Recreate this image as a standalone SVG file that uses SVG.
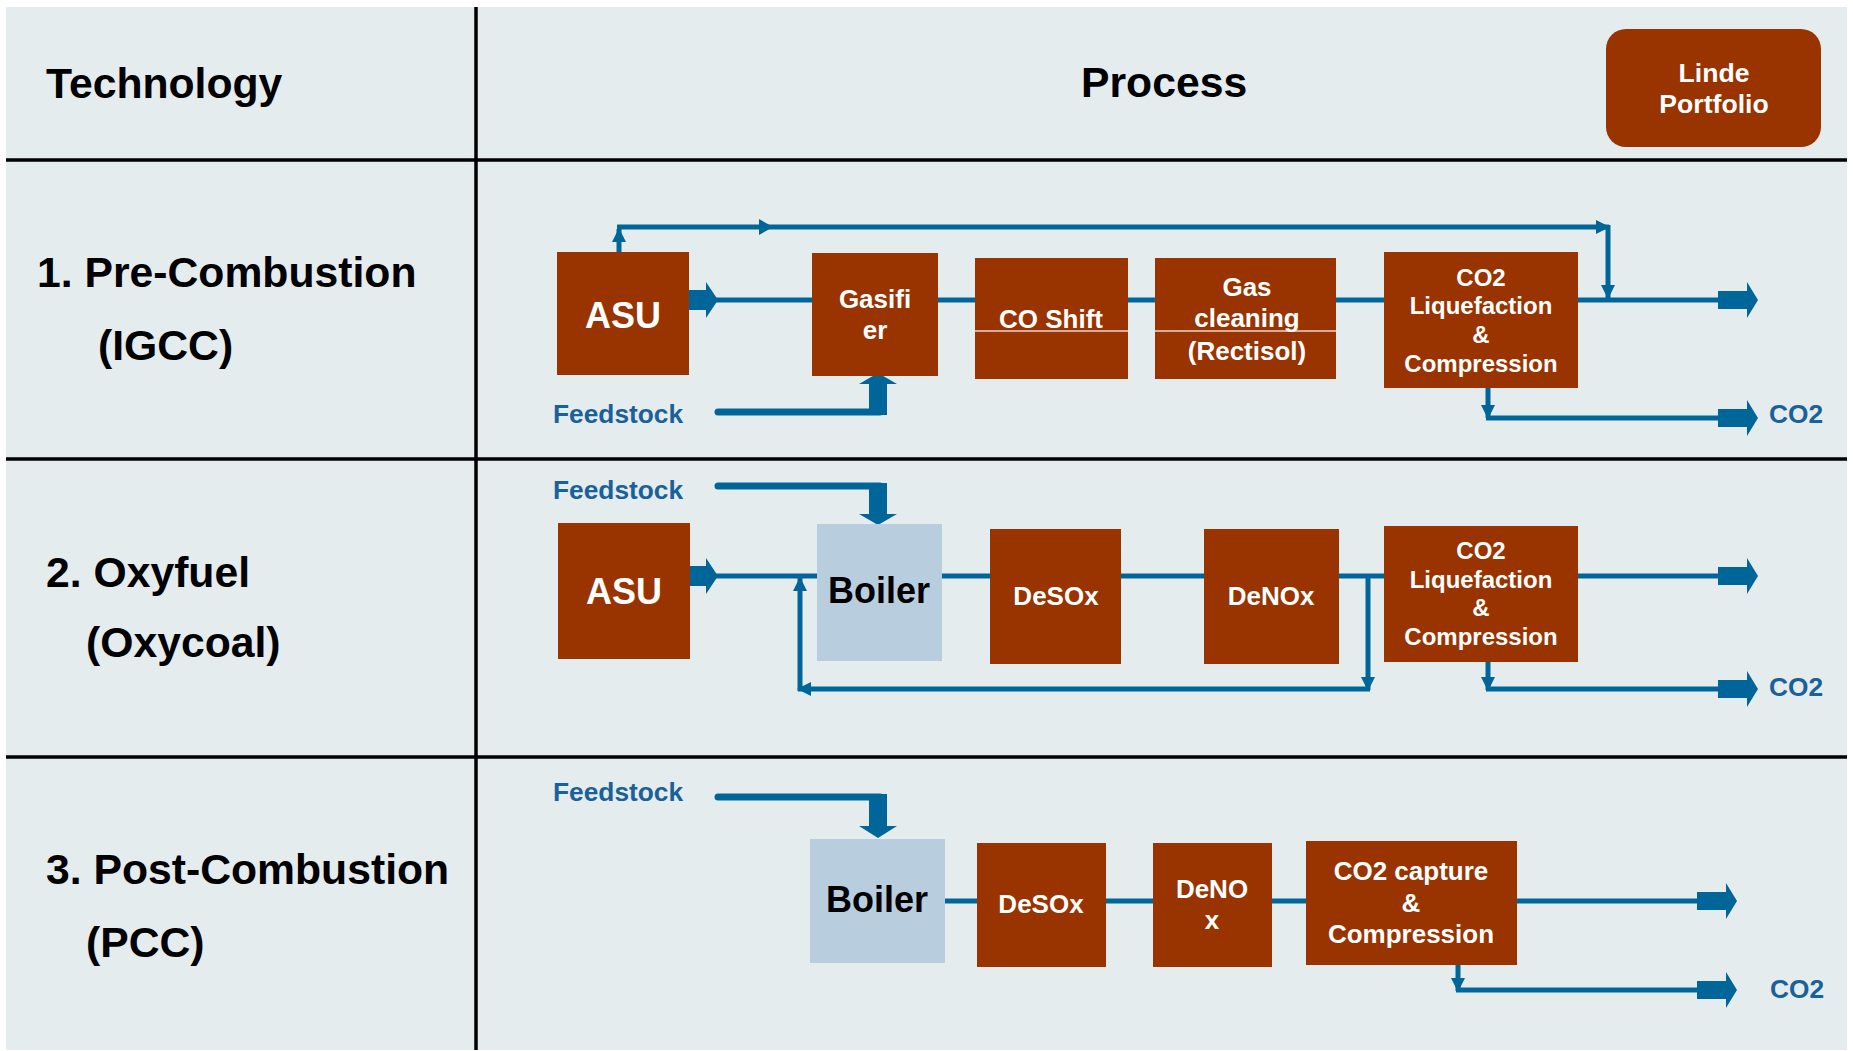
<svg xmlns="http://www.w3.org/2000/svg" xmlns:xlink="http://www.w3.org/1999/xlink" width="1853" height="1051" viewBox="0 0 1853 1051">
<style>
.t{font-family:"Liberation Sans",Arial,sans-serif;font-weight:bold}
.h{font-size:42.7px;fill:#000}
.bw{font-size:26px;fill:#fff;text-anchor:middle}
.lp{font-size:26.6px;fill:#fff;text-anchor:middle}
.bs{font-size:24px;fill:#fff;text-anchor:middle}
.big{font-size:36px;text-anchor:middle}
.lab{font-size:26.3px;fill:#1a6199}
.box{fill:#993300}
.boil{fill:#b8cede}
.ln{stroke:#006699;stroke-width:5;fill:none}
.fs{stroke:#006699;stroke-width:7;fill:none;stroke-linecap:round}
.grid{stroke:#000;stroke-width:3.5}
.ar{fill:#006699}
</style>
<defs>
<marker id="ah" markerUnits="userSpaceOnUse" viewBox="0 0 14 14" markerWidth="14" markerHeight="14" refX="13" refY="7" orient="auto"><path d="M0,0 L14,7 L0,14 z" fill="#006699"/></marker>
<path id="blkS" d="M0,-10 H17 V-18 L29,0 L17,18 V10 H0 Z" fill="#006699"/>
<path id="blkL" d="M0,-9 H29 V-18 L40,0 L29,18 V9 H0 Z" fill="#006699"/>
</defs>
<rect x="0" y="0" width="1853" height="1051" fill="#fff"/>
<rect x="6" y="7" width="1841" height="1043" fill="#e5ecee"/>
<g id="table">
<line class="grid" x1="476" y1="7" x2="476" y2="1050"/>
<line class="grid" x1="6" y1="160" x2="1847" y2="160"/>
<line class="grid" x1="6" y1="459" x2="1847" y2="459"/>
<line class="grid" x1="6" y1="757" x2="1847" y2="757"/>
<text class="t h" x="46" y="98">Technology</text>
<text class="t h" x="1081" y="97">Process</text>
<text class="t h" x="37" y="287">1. Pre-Combustion</text>
<text class="t h" x="98" y="360">(IGCC)</text>
<text class="t h" x="46" y="587">2. Oxyfuel</text>
<text class="t h" x="86" y="657">(Oxycoal)</text>
<text class="t h" x="46" y="884">3. Post-Combustion</text>
<text class="t h" x="86" y="957">(PCC)</text>
</g>
<g id="connectors">
<!-- row 1 -->
<line class="ln" x1="706" y1="300" x2="1718" y2="300"/>
<use xlink:href="#blkS" x="689" y="300"/>
<use xlink:href="#blkL" x="1718" y="300"/>
<line class="ln" x1="619" y1="257" x2="619" y2="229" marker-end="url(#ah)"/>
<line class="ln" x1="617" y1="227" x2="1609" y2="227" marker-end="url(#ah)"/>
<polygon class="ar" points="759,219 773,227 759,235"/>
<line class="ln" x1="1608" y1="225" x2="1608" y2="298" marker-end="url(#ah)"/>
<line class="ln" x1="1488" y1="388" x2="1488" y2="418" marker-end="url(#ah)"/>
<line class="ln" x1="1486" y1="418" x2="1720" y2="418"/>
<use xlink:href="#blkL" x="1718" y="418"/>
<line class="fs" x1="718" y1="412" x2="880" y2="412"/>
<path class="ar" d="M869,415 V384 H859 L878,373 L897,384 H887 V415 Z"/>
<!-- row 2 -->
<line class="ln" x1="706" y1="576" x2="1718" y2="576"/>
<use xlink:href="#blkS" x="689" y="576"/>
<use xlink:href="#blkL" x="1718" y="576"/>
<line class="ln" x1="1368" y1="576" x2="1368" y2="690" marker-end="url(#ah)"/>
<line class="ln" x1="1370" y1="689" x2="798" y2="689" marker-end="url(#ah)"/>
<line class="ln" x1="800" y1="691" x2="800" y2="578" marker-end="url(#ah)"/>
<line class="ln" x1="1488" y1="662" x2="1488" y2="690" marker-end="url(#ah)"/>
<line class="ln" x1="1486" y1="689" x2="1720" y2="689"/>
<use xlink:href="#blkL" x="1718" y="689"/>
<line class="fs" x1="718" y1="486" x2="880" y2="486"/>
<path class="ar" d="M869,483 V514 H859 L878,525 L897,514 H887 V483 Z"/>
<!-- row 3 -->
<line class="ln" x1="945" y1="901" x2="1698" y2="901"/>
<use xlink:href="#blkL" x="1697" y="901"/>
<line class="ln" x1="1458" y1="965" x2="1458" y2="991" marker-end="url(#ah)"/>
<line class="ln" x1="1456" y1="990" x2="1699" y2="990"/>
<use xlink:href="#blkL" x="1697" y="990"/>
<line class="fs" x1="718" y1="797" x2="880" y2="797"/>
<path class="ar" d="M869,794 V826 H859 L878,838 L897,826 H887 V794 Z"/>
</g>
<g id="linde">
<rect class="box" x="1606" y="29" width="215" height="118" rx="20"/>
<text class="t lp" x="1714" y="82">Linde</text>
<text class="t lp" x="1714" y="113">Portfolio</text>
</g>
<g id="r1-asu">
<rect class="box" x="557" y="252" width="132" height="123"/>
<text class="t big" x="623" y="328" fill="#fff">ASU</text>
</g>
<g id="r1-gasifier">
<rect class="box" x="812" y="253" width="126" height="123"/>
<text class="t bw" x="875" y="308">Gasifi</text>
<text class="t bw" x="875" y="339">er</text>
</g>
<g id="r1-coshift">
<rect class="box" x="975" y="258" width="153" height="121"/>
<line x1="975" y1="331" x2="1128" y2="331" stroke="#fff" stroke-width="1.5" opacity="0.8"/>
<text class="t bw" x="1051" y="328">CO Shift</text>
</g>
<g id="r1-gascleaning">
<rect class="box" x="1155" y="258" width="181" height="121"/>
<line x1="1155" y1="331" x2="1336" y2="331" stroke="#fff" stroke-width="1.5" opacity="0.8"/>
<text class="t bw" x="1247" y="296">Gas</text>
<text class="t bw" x="1247" y="327">cleaning</text>
<text class="t bw" x="1247" y="360">(Rectisol)</text>
</g>
<g id="r1-co2">
<rect class="box" x="1384" y="252" width="194" height="136"/>
<text class="t bs" x="1481" y="286">CO2</text>
<text class="t bs" x="1481" y="314">Liquefaction</text>
<text class="t bs" x="1481" y="343">&amp;</text>
<text class="t bs" x="1481" y="372">Compression</text>
</g>
<g id="r1-feed">
<text class="t lab" x="553" y="423">Feedstock</text>
</g>
<g id="r1-co2out">
<text class="t lab" x="1769" y="423">CO2</text>
</g>
<g id="r2-feed">
<text class="t lab" x="553" y="499">Feedstock</text>
</g>
<g id="r2-asu">
<rect class="box" x="558" y="523" width="132" height="136"/>
<text class="t big" x="624" y="604" fill="#fff">ASU</text>
</g>
<g id="r2-boiler">
<rect class="boil" x="817" y="524" width="125" height="137"/>
<text class="t big" x="879" y="603" fill="#000">Boiler</text>
</g>
<g id="r2-desox">
<rect class="box" x="990" y="529" width="131" height="135"/>
<text class="t bw" x="1056" y="605">DeSOx</text>
</g>
<g id="r2-denox">
<rect class="box" x="1204" y="529" width="135" height="135"/>
<text class="t bw" x="1271" y="605">DeNOx</text>
</g>
<g id="r2-co2">
<rect class="box" x="1384" y="526" width="194" height="136"/>
<text class="t bs" x="1481" y="559">CO2</text>
<text class="t bs" x="1481" y="588">Liquefaction</text>
<text class="t bs" x="1481" y="616">&amp;</text>
<text class="t bs" x="1481" y="645">Compression</text>
</g>
<g id="r2-co2out">
<text class="t lab" x="1769" y="696">CO2</text>
</g>
<g id="r3-feed">
<text class="t lab" x="553" y="801">Feedstock</text>
</g>
<g id="r3-boiler">
<rect class="boil" x="810" y="839" width="135" height="124"/>
<text class="t big" x="877" y="912" fill="#000">Boiler</text>
</g>
<g id="r3-desox">
<rect class="box" x="977" y="843" width="129" height="124"/>
<text class="t bw" x="1041" y="913">DeSOx</text>
</g>
<g id="r3-denox">
<rect class="box" x="1153" y="843" width="119" height="124"/>
<text class="t bw" x="1212" y="898">DeNO</text>
<text class="t bw" x="1212" y="929">x</text>
</g>
<g id="r3-capture">
<rect class="box" x="1306" y="841" width="211" height="124"/>
<text class="t bw" x="1411" y="880">CO2 capture</text>
<text class="t bw" x="1411" y="912">&amp;</text>
<text class="t bw" x="1411" y="943">Compression</text>
</g>
<g id="r3-co2out">
<text class="t lab" x="1770" y="998">CO2</text>
</g>
</svg>
